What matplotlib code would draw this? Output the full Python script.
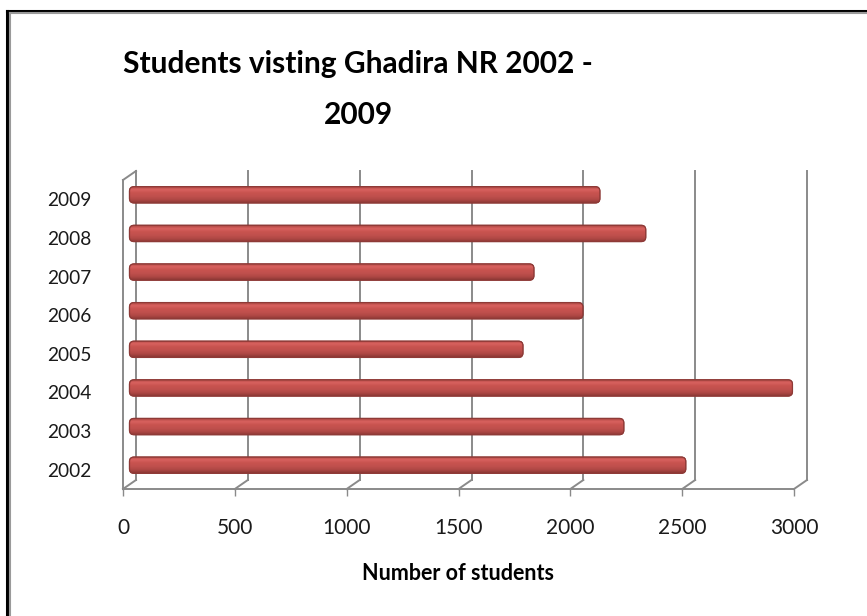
import matplotlib
matplotlib.use("Agg")
import matplotlib.pyplot as plt
import matplotlib.transforms as mtransforms
from matplotlib.patches import FancyBboxPatch
from matplotlib.colors import LinearSegmentedColormap
from matplotlib.lines import Line2D
import numpy as np

years = ["2002", "2003", "2004", "2005", "2006", "2007", "2008", "2009"]
students = [2487, 2210, 2964, 1759, 2027, 1808, 2308, 2103]
x_ticks = [0, 500, 1000, 1500, 2000, 2500, 3000]

title = "Students visting Ghadira NR 2002 -\n2009"
xlabel = "Number of students"

W, H = 867, 616
DPI = 100
fig = plt.figure(figsize=(W / DPI, H / DPI), dpi=DPI)
fig.patch.set_facecolor("white")

FONT = "Lato"
GRAY = "#8a8a8a"

# front plane of the 3D plot area in pixels
left_px, right_px, top_px, bottom_px = 123, 794, 180, 489
ax = fig.add_axes([left_px / W, 1 - bottom_px / H,
                   (right_px - left_px) / W, (bottom_px - top_px) / H])
ax.set_xlim(0, 3000)
ax.set_ylim(-0.5, 7.5)
for s in ax.spines.values():
    s.set_visible(False)
ax.patch.set_alpha(0)

def off(dx_px, dy_px):
    return ax.transData + mtransforms.ScaledTranslation(dx_px / DPI, dy_px / DPI, fig.dpi_scale_trans)

back = off(13, 9)
mid = off(6.5, 4.5)
lw = 1.4

# back wall gridlines
for xv in x_ticks:
    ax.plot([xv, xv], [-0.5, 7.5], color=GRAY, lw=lw, transform=back, clip_on=False, zorder=1)
# floor diagonals from front ticks to back wall
for xv in x_ticks:
    p0 = ax.transData.transform((xv, -0.5))
    p1 = back.transform((xv, -0.5))
    fig.add_artist(Line2D([p0[0] / W, p1[0] / W], [p0[1] / H, p1[1] / H], color=GRAY, lw=lw, zorder=2))
# left wall: front vertical + top diagonal
ax.plot([0, 0], [-0.5, 7.5], color=GRAY, lw=lw, clip_on=False, zorder=2)
p0 = ax.transData.transform((0, 7.5))
p1 = back.transform((0, 7.5))
fig.add_artist(Line2D([p0[0] / W, p1[0] / W], [p0[1] / H, p1[1] / H], color=GRAY, lw=lw, zorder=2))
# front floor line
ax.plot([0, 3000], [-0.5, -0.5], color=GRAY, lw=lw, clip_on=False, zorder=2)

# cylinder-like bars
cmap = LinearSegmentedColormap.from_list(
    "cyl", ["#8C3835", "#B04845", "#C0504D", "#C8534F", "#D9625F", "#A8443F"])
grad = np.linspace(0, 1, 64).reshape(-1, 1)
bh = 0.42
px_x = 3000 / (right_px - left_px)
px_y = 8 / (bottom_px - top_px)
r = 4.5 * px_x
for i, v in enumerate(students):
    y0 = i - bh / 2
    patch = FancyBboxPatch((0, y0), v, bh,
                           boxstyle=f"round,pad=0,rounding_size={r}",
                           mutation_aspect=px_y / px_x,
                           facecolor="#C0504D", edgecolor="#8E3A37", lw=0.8,
                           transform=mid, zorder=5, clip_on=False)
    ax.add_patch(patch)
    im = ax.imshow(grad, cmap=cmap, aspect="auto", origin="lower",
                   extent=(0, v, y0, y0 + bh), transform=mid, zorder=5,
                   interpolation="bilinear", clip_on=True)
    im.set_clip_path(patch)
    edge = FancyBboxPatch((0, y0), v, bh,
                          boxstyle=f"round,pad=0,rounding_size={r}",
                          mutation_aspect=px_y / px_x,
                          facecolor="none", edgecolor="#8E3A37", lw=0.9,
                          transform=mid, zorder=6, clip_on=False)
    ax.add_patch(edge)

ax.set_xlim(0, 3000)
ax.set_ylim(-0.5, 7.5)

ax.set_yticks(range(len(years)))
ax.set_yticklabels(years, fontsize=13.8, fontfamily=FONT, color="#1a1a1a")
ax.tick_params(axis="y", length=0, pad=23)
ax.set_xticks(x_ticks)
ax.set_xticklabels([str(t) for t in x_ticks], fontsize=15, fontfamily=FONT, color="#1a1a1a")
ax.tick_params(axis="x", length=5, width=1, color=GRAY, pad=16, direction="out")

fig.text(358 / W, 1 - 89 / H, title, ha="center", va="center", fontsize=21.5,
         fontweight="bold", fontfamily=FONT, linespacing=2.0, multialignment="center")
fig.text(458 / W, 1 - 574 / H, xlabel, ha="center", va="center", fontsize=15.5,
         fontweight="bold", fontfamily=FONT)

# outer chart border (cut off at right/bottom)
fig.add_artist(Line2D([7 / W, 7 / W], [0, 1 - 10.5 / H], color="black", lw=2.2))
fig.add_artist(Line2D([7 / W, 1], [1 - 10.5 / H, 1 - 10.5 / H], color="black", lw=2.2))
fig.add_artist(Line2D([9.5 / W, 9.5 / W], [0, 1 - 13 / H], color="#9a9a9a", lw=1.5))
fig.add_artist(Line2D([9.5 / W, 1], [1 - 13 / H, 1 - 13 / H], color="#9a9a9a", lw=1.5))

fig.savefig("out.png", dpi=DPI)
